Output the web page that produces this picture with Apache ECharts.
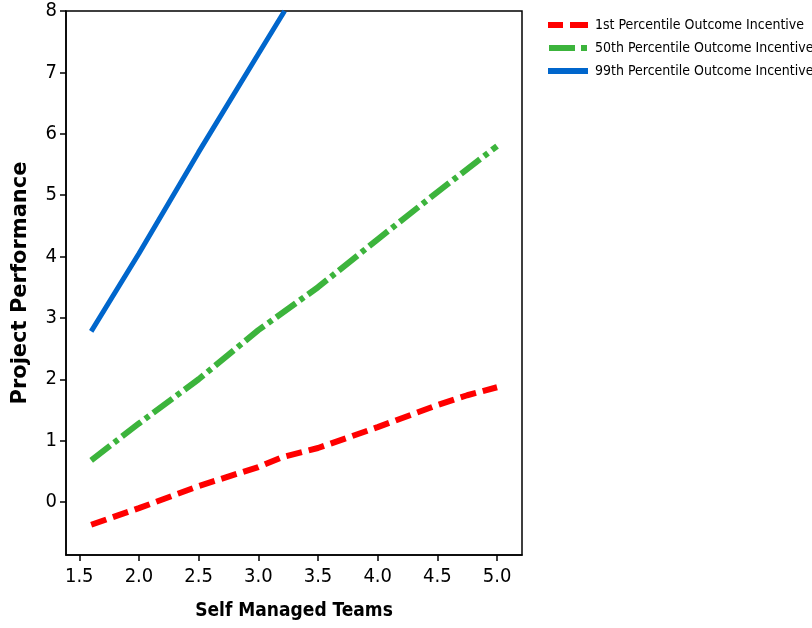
<!DOCTYPE html>
<html>
<head>
<meta charset="utf-8">
<script src="https://cdn.jsdelivr.net/npm/echarts@6/dist/echarts.min.js"></script>
<style>
  html, body { margin: 0; padding: 0; background: #fff; }
  #container { width: 812px; height: 628px; }
</style>
</head>
<body>
<div id="container"></div>
<script>
// values
var seriesNames = ['1st Percentile Outcome Incentive', '50th Percentile Outcome Incentive', '99th Percentile Outcome Incentive'];
var lowX = [1.6, 2.0, 2.5, 3.0, 3.2, 3.5, 4.0, 4.5, 4.75, 5.0];
var lowY = [-0.37, -0.1, 0.26, 0.57, 0.73, 0.88, 1.22, 1.58, 1.74, 1.87];
var midX = [1.6, 2.0, 2.5, 3.0, 3.5, 4.0, 4.5, 5.0];
var midY = [0.68, 1.28, 2.0, 2.8, 3.5, 4.28, 5.05, 5.8];
var highX = [1.6, 2.0, 2.5, 3.0, 3.22];
var highY = [2.78, 4.05, 5.7, 7.3, 8.0];
var xTicks = [1.5, 2.0, 2.5, 3.0, 3.5, 4.0, 4.5, 5.0];
var yTicks = [0, 1, 2, 3, 4, 5, 6, 7, 8];

var colors = ['#ff0000', '#3cb43c', '#0066cc'];
var widths = [6, 6, 5];
var dashes = [[16, 7], [24, 5, 5, 5], 'solid'];
// legend swatches drawn as dash pieces (a 40 x 6 box)
var legendIcons = [
    'path://M0,0h15v6h-15z M22,0h18v6h-18z',
    'path://M0,0h26v6h-26z M32,0h6v6h-6z',
    'path://M0,0h40v6h-40z'
];

var dom = document.getElementById('container');
var myChart = echarts.init(dom);
var tickFont = "'DejaVu Sans Condensed', 'Liberation Sans Narrow', 'DejaVu Sans', sans-serif";

function pairs(xs, ys) {
    var out = [];
    for (var i = 0; i < xs.length; i++) {
        out.push([xs[i], ys[i]]);
    }
    return out;
}

function lineSeries(i, xs, ys) {
    return {
        name: seriesNames[i],
        type: 'line',
        data: pairs(xs, ys),
        showSymbol: false,
        symbol: 'none',
        lineStyle: { color: colors[i], width: widths[i], type: dashes[i], cap: 'butt' },
        itemStyle: { color: colors[i] }
    };
}

var legendData = [];
for (var i = 0; i < seriesNames.length; i++) {
    legendData.push({
        name: seriesNames[i],
        icon: legendIcons[i],
        itemStyle: { color: colors[i] }
    });
}

var option = {
    backgroundColor: '#fff',
    animation: false,
    legend: {
        orient: 'vertical',
        left: 543,
        top: 13,
        itemWidth: 40,
        itemHeight: 6,
        itemGap: 9,
        textStyle: { fontFamily: tickFont, fontSize: 14, color: '#000', padding: [0, 0, 0, 2] },
        data: legendData
    },
    grid: {
        left: 66,
        right: 290,
        top: 11,
        bottom: 73,
        outerBoundsMode: 'none',
        containLabel: false,
        show: true,
        borderColor: '#000',
        borderWidth: 1.5
    },
    xAxis: {
        type: 'value',
        min: 1.389,
        max: 5.209,
        name: 'Self Managed Teams',
        nameLocation: 'middle',
        nameGap: 47,
        nameTextStyle: { fontFamily: tickFont, fontWeight: 'bold', fontSize: 19, color: '#000' },
        axisLine: { onZero: false, lineStyle: { color: '#000', width: 1.5 } },
        axisTick: { show: true, length: 6, lineStyle: { color: '#000', width: 1.5 }, customValues: xTicks },
        axisLabel: {
            customValues: xTicks,
            fontFamily: tickFont, fontSize: 20, color: '#000', margin: 12,
            formatter: function (v) { return v.toFixed(1); }
        },
        splitLine: { show: false }
    },
    yAxis: {
        type: 'value',
        min: -0.863,
        max: 8,
        name: 'Project Performance',
        nameLocation: 'middle',
        nameGap: 35,
        nameTextStyle: { fontFamily: "'DejaVu Sans', sans-serif", fontWeight: 'bold', fontSize: 21, color: '#000' },
        axisLine: { onZero: false, lineStyle: { color: '#000', width: 1.5 } },
        axisTick: { show: true, length: 6, lineStyle: { color: '#000', width: 1.5 }, customValues: yTicks },
        axisLabel: {
            customValues: yTicks,
            fontFamily: tickFont, fontSize: 20, color: '#000', margin: 9
        },
        splitLine: { show: false }
    },
    series: [
        lineSeries(0, lowX, lowY),
        lineSeries(1, midX, midY),
        lineSeries(2, highX, highY)
    ]
};
myChart.setOption(option);
</script>
</body>
</html>
